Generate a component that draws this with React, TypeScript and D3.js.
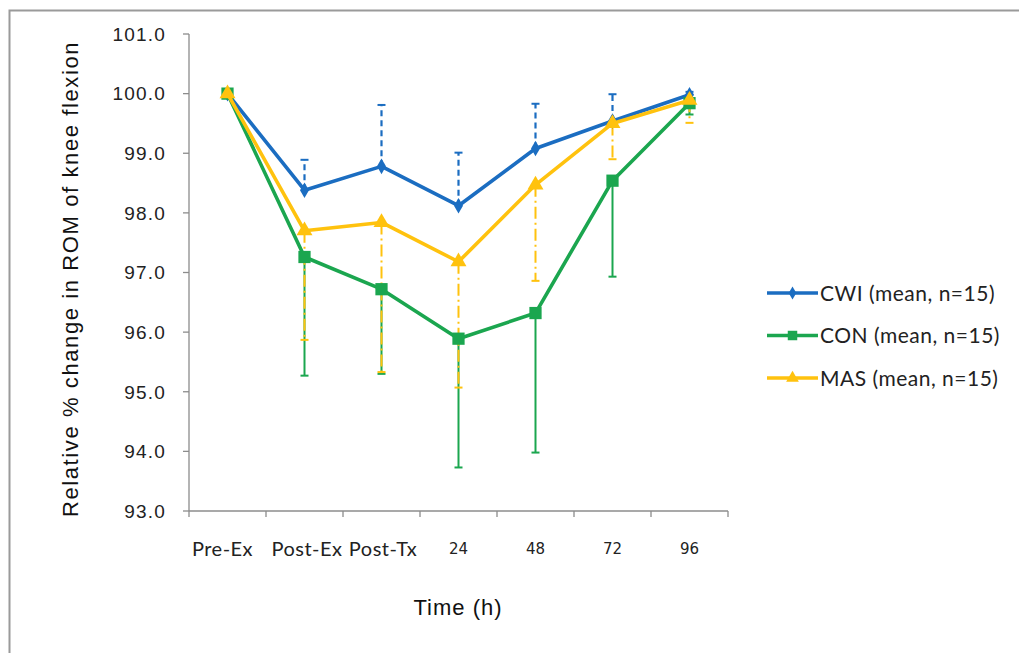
import React from 'react';
import * as d3 from 'd3';

// time points on the x axis
const categories = ['Pre-Ex', 'Post-Ex', 'Post-Tx', '24', '48', '72', '96'];

// CWI: mean and upper error bar end
const cwiMean = [100.0, 98.38, 98.78, 98.12, 99.08, 99.54, 99.98];
const cwiUpper = [null, 98.89, 99.81, 99.01, 99.83, 99.99, 100.03];

// CON: mean and lower error bar end
const conMean = [100.0, 97.26, 96.72, 95.89, 96.32, 98.54, 99.84];
const conLower = [null, 95.27, 95.30, 93.73, 93.98, 96.93, 99.65];

// MAS: mean and lower error bar end
const masMean = [100.0, 97.70, 97.84, 97.18, 98.47, 99.50, 99.89];
const masLower = [null, 95.87, 95.33, 95.07, 96.86, 98.90, 99.51];

const yTicks = [93, 94, 95, 96, 97, 98, 99, 100, 101];

const seriesNames = ['CWI (mean, n=15)', 'CON (mean, n=15)', 'MAS (mean, n=15)'];

const BLUE = '#1B6DC1';
const GREEN = '#1BA64F';
const YELLOW = '#FFC20E';

const App = () => {
    const svgRef = React.useRef<SVGSVGElement>(null);

    React.useEffect(() => {
        document.body.style.margin = '0';
        const svg = d3.select(svgRef.current);
        svg.selectAll('*').remove();

        const W = 1019, H = 653;
        svg.attr('width', W).attr('height', H);

        svg.append('rect').attr('width', W).attr('height', H).attr('fill', '#fff');

        // outer frame
        svg.append('path')
            .attr('d', `M9.5,${H} L9.5,10.5 L${W},10.5`)
            .attr('fill', 'none').attr('stroke', '#9a9a9a').attr('stroke-width', 2);

        const x = d3.scaleBand().domain(categories).range([189, 728]);
        const y = d3.scaleLinear().domain([93, 101]).range([511, 34]);
        const cx = (c) => x(c) + x.bandwidth() / 2;

        const axisColor = '#8c8c8c';
        // y axis
        svg.append('line').attr('x1', 189).attr('x2', 189).attr('y1', y(101)).attr('y2', y(93))
            .attr('stroke', axisColor).attr('stroke-width', 1.3);
        const yt = svg.append('g');
        yTicks.forEach(t => {
            yt.append('line').attr('x1', 183).attr('x2', 189).attr('y1', y(t)).attr('y2', y(t))
                .attr('stroke', axisColor).attr('stroke-width', 1.3);
            yt.append('text').attr('x', 166).attr('y', y(t)).attr('dy', '0.36em')
                .attr('text-anchor', 'end')
                .attr('font-family', 'Liberation Sans, Arial, sans-serif')
                .attr('font-size', 19).attr('letter-spacing', 1.2)
                .attr('fill', '#222')
                .text(t.toFixed(1));
        });

        // x axis
        svg.append('line').attr('x1', 189).attr('x2', 728).attr('y1', y(93)).attr('y2', y(93))
            .attr('stroke', axisColor).attr('stroke-width', 1.3);
        const bounds = categories.map(c => x(c)).concat([x(categories[categories.length - 1]) + x.bandwidth()]);
        bounds.forEach(b => {
            svg.append('line').attr('x1', b).attr('x2', b).attr('y1', y(93)).attr('y2', y(93) + 6)
                .attr('stroke', axisColor).attr('stroke-width', 1.3);
        });
        categories.forEach((c, i) => {
            const numeric = !isNaN(+c);
            // the word labels are wider than a band, so Excel nudged them apart
            const nudge = numeric ? 0 : [-5, 2.5, 1.5][i];
            svg.append('text').attr('x', cx(c) + nudge).attr('y', 549).attr('dy', '0.36em')
                .attr('text-anchor', 'middle')
                .attr('font-family', numeric ? 'DejaVu Sans, sans-serif' : 'Lato, sans-serif')
                .attr('font-size', numeric ? 15 : 20)
                .attr('letter-spacing', numeric ? 0 : 0.5)
                .attr('fill', '#222')
                .text(c);
        });

        // axis titles
        svg.append('text').attr('x', 458).attr('y', 607).attr('dy', '0.36em')
            .attr('text-anchor', 'middle')
            .attr('font-family', 'Liberation Sans, Arial, sans-serif')
            .attr('font-size', 22).attr('letter-spacing', 1)
            .attr('fill', '#111')
            .text('Time (h)');
        svg.append('text')
            .attr('transform', 'translate(70,279) rotate(-90)')
            .attr('dy', '0.36em')
            .attr('text-anchor', 'middle')
            .attr('font-family', 'Liberation Sans, Arial, sans-serif')
            .attr('font-size', 22).attr('letter-spacing', 1.6)
            .attr('fill', '#111')
            .text('Relative % change in ROM of knee flexion');

        // error bars
        const errBars = (means, ends, color, dash, width) => {
            const g = svg.append('g');
            categories.forEach((c, i) => {
                if (ends[i] == null) return;
                g.append('line').attr('x1', cx(c)).attr('x2', cx(c))
                    .attr('y1', y(means[i])).attr('y2', y(ends[i]))
                    .attr('stroke', color).attr('stroke-width', width)
                    .attr('stroke-dasharray', dash);
                g.append('line').attr('x1', cx(c) - 4).attr('x2', cx(c) + 4)
                    .attr('y1', y(ends[i])).attr('y2', y(ends[i]))
                    .attr('stroke', color).attr('stroke-width', 2);
            });
        };
        errBars(cwiMean, cwiUpper, BLUE, '6,4', 2.2);
        errBars(conMean, conLower, GREEN, null, 2);
        errBars(masMean, masLower, YELLOW, '12,4,2,4', 2);

        const line = d3.line<number>().x((d, i) => cx(categories[i])).y(d => y(d));

        const drawSeries = (vals, color, symbol, size) => {
            svg.append('path').attr('d', line(vals))
                .attr('fill', 'none').attr('stroke', color).attr('stroke-width', 3.6)
                .attr('stroke-linejoin', 'round');
            vals.forEach((v, i) => {
                svg.append('path')
                    .attr('d', d3.symbol().type(symbol).size(size)())
                    .attr('transform', `translate(${cx(categories[i])},${y(v)})`)
                    .attr('fill', color);
            });
        };
        drawSeries(cwiMean, BLUE, d3.symbolDiamond, 70);
        drawSeries(conMean, GREEN, d3.symbolSquare, 150);
        drawSeries(masMean, YELLOW, d3.symbolTriangle, 110);

        // legend
        const legendRows = [
            { name: seriesNames[0], color: BLUE, symbol: d3.symbolDiamond, size: 50, yy: 293 },
            { name: seriesNames[1], color: GREEN, symbol: d3.symbolSquare, size: 90, yy: 335.5 },
            { name: seriesNames[2], color: YELLOW, symbol: d3.symbolTriangle, size: 70, yy: 378 },
        ];
        legendRows.forEach(r => {
            svg.append('line').attr('x1', 767).attr('x2', 818).attr('y1', r.yy).attr('y2', r.yy)
                .attr('stroke', r.color).attr('stroke-width', 3.6);
            svg.append('path').attr('d', d3.symbol().type(r.symbol).size(r.size)())
                .attr('transform', `translate(792.5,${r.yy})`).attr('fill', r.color);
            svg.append('text').attr('x', 820).attr('y', r.yy).attr('dy', '0.36em')
                .attr('font-family', 'Lato, sans-serif').attr('font-size', 21)
                .attr('letter-spacing', 0.5)
                .attr('fill', '#222')
                .text(r.name);
        });
    }, []);

    return (
        <svg ref={svgRef} style={{ position: 'absolute', left: 0, top: 0 }}></svg>
    );
};

export default App;
